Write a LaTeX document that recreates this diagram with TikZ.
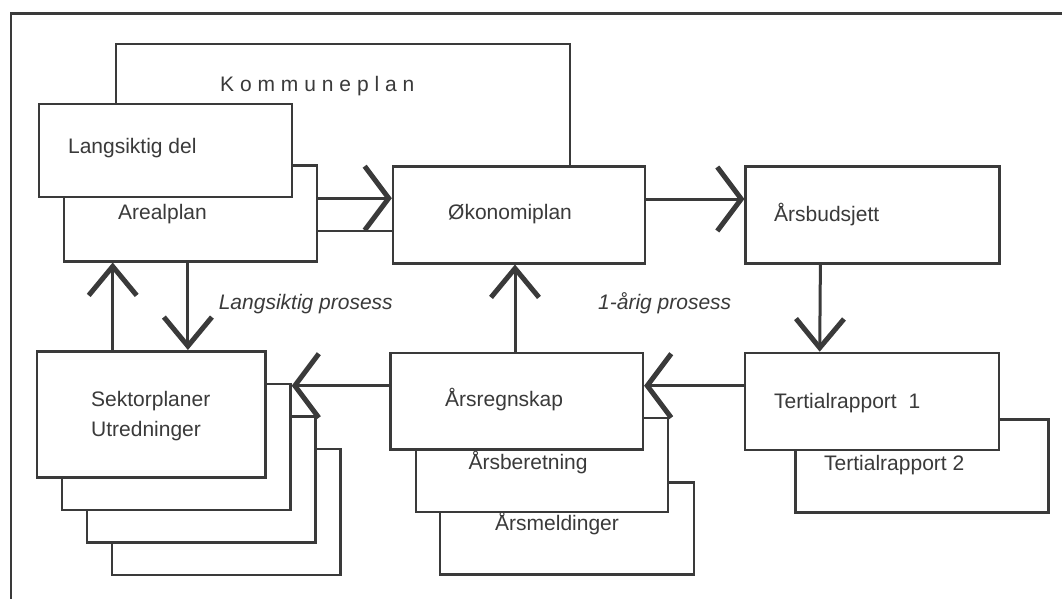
\documentclass[tikz,border=0pt]{standalone}
\usepackage{fontspec}
\setmainfont{Liberation Sans}
\usepackage{tikz}
\usetikzlibrary{arrows.meta}

\definecolor{ink}{HTML}{3A3A3A}

\begin{document}
\begin{tikzpicture}
		[x=1pt,y=-1pt,line cap=round,
		%Styles
		box/.style={draw=ink,line width=2.5pt,fill=white,inner sep=0pt,anchor=north west,
			minimum width=253pt,minimum height=95pt},
		box text/.style={anchor=base west,inner sep=0pt,text=ink,font=\fontsize{21}{25}\selectfont},
		process text/.style={box text,font=\fontsize{21}{25}\selectfont\itshape},
		connector/.style={draw=ink,line width=3pt},
		harrow/.style={-{Straight Barb[length=24pt,width=64pt,line width=5pt]}},
		varrow/.style={-{Straight Barb[length=29pt,width=48pt,line width=5pt]}}
		]
		
		\useasboundingbox (0,0) rectangle (1062,599);
		
		%Frame
		\draw[ink,line width=2.5pt] (11,599) -- (11,13.5) -- (1062,13.5);
		
		%The graphic
		\node[box,minimum width=454pt,minimum height=187pt] (kommune) at (114.6,42.7) {};
		\node[box,minimum height=96pt] (arealplan) at (62.9,164) {};
		\node[box,minimum height=93pt] (langsiktig) at (37.5,102.7) {};
		\node[box,minimum width=252pt,minimum height=97pt] (okonomi) at (391.8,165) {};
		\node[box,minimum width=254pt,minimum height=97pt] (arsbudsjett) at (744.4,165) {};
		
		\node[box,minimum height=93pt] (tertial2) at (794,418.3) {};
		\node[box,minimum width=254pt,minimum height=97pt] (tertial1) at (743.7,351.7) {};
		
		\node[box,minimum width=254pt,minimum height=92pt] (arsmeldinger) at (438.8,481) {};
		\node[box,minimum width=252pt,minimum height=94pt] (arsberetning) at (414.5,416.7) {};
		\node[box,minimum width=252.6pt,minimum height=96.3pt] (arsregnskap) at (389,351.7) {};
		
		\foreach \i in {3,2,1,0}
			\node[box,minimum width=228.5pt,minimum height=126pt] (sektor\i) at (35.7+25*\i,350+32.5*\i) {};
		
		%Connectors
		\draw[connector,harrow] (arealplan.east |- langsiktig.south) -- (okonomi.west |- langsiktig.south);
		\draw[connector,harrow] ([yshift=-34pt]okonomi.north east) -- ([yshift=-34pt]arsbudsjett.north west);
		\draw[connector,varrow] ([xshift=76pt]arsbudsjett.south west) -- ([xshift=76pt]tertial1.north west);
		\draw[connector,harrow] ([yshift=-34pt]tertial1.north west) -- ([yshift=-34pt]arsregnskap.north east);
		\coordinate (regnskapout) at ([yshift=-34pt]arsregnskap.north west);
		\draw[connector,harrow] (regnskapout) -- (regnskapout -| sektor1.east);
		\coordinate (regnskapup) at ([xshift=126pt]arsregnskap.north west);
		\draw[connector,varrow] (regnskapup) -- (regnskapup |- okonomi.south);
		\coordinate (sektorup) at ([xshift=77pt]sektor0.north west);
		\draw[connector,varrow] (sektorup) -- (sektorup |- arealplan.south);
		\coordinate (arealdown) at ([xshift=125pt]arealplan.south west);
		\draw[connector,varrow] (arealdown) -- (arealdown |- sektor0.north);
		
		%Texts
		\node[box text] (kommunetext) at (220,92) {\addfontfeature{LetterSpace=28}Kommuneplan};
		\node[box text] (langsiktigtext) at (67.9,153.3) {Langsiktig del};
		\node[box text] (arealtext) at (117.9,219.3) {Arealplan};
		\node[box text] (okonomitext) at (448,219) {Økonomiplan};
		\node[box text] (budsjetttext) at (774,221.7) {Årsbudsjett};
		\node[box text] (tertial1text) at (774,408) {Tertialrapport\hspace{12pt}1};
		\node[box text] (tertial2text) at (824,470) {Tertialrapport 2};
		\node[box text] (regnskaptext) at (445,406) {Årsregnskap};
		\node[box text] (beretningtext) at (468.3,469.3) {Årsberetning};
		\node[box text] (meldingtext) at (495,530.7) {Årsmeldinger};
		\node[box text] (sektortext) at (91,406) {Sektorplaner};
		\node[box text] (utredtext) at (91,436.7) {Utredninger};
		\node[process text] (langprosess) at (218.6,309) {Langsiktig prosess};
		\node[process text] (arprosess) at (598,309) {1-årig prosess};
\end{tikzpicture}
\end{document}
